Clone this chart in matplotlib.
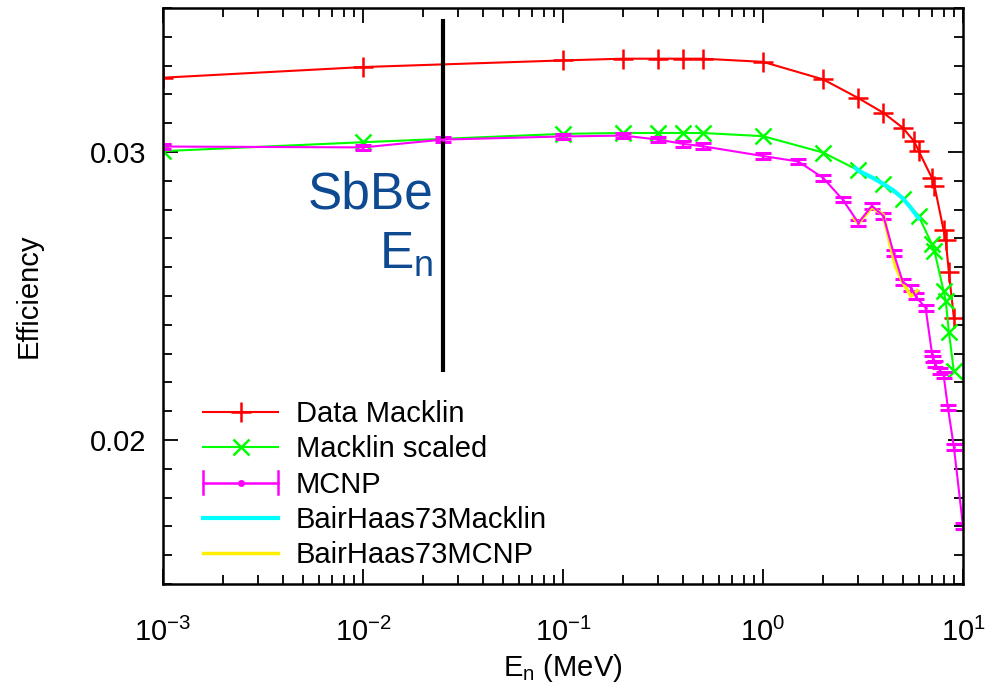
import numpy as np
import matplotlib
matplotlib.use("Agg")
import matplotlib.pyplot as plt
from matplotlib.lines import Line2D
from matplotlib.legend_handler import HandlerBase
from matplotlib.ticker import MultipleLocator, LogLocator

plt.rcParams['font.family'] = ['Liberation Sans', 'DejaVu Sans']
plt.rcParams['mathtext.default'] = 'regular'

# Data Macklin
e_data = [0.001, 0.01, 0.1, 0.2, 0.3, 0.4, 0.5, 1, 2, 3, 4, 5, 5.7, 6,
          7, 7.2, 8, 8.2, 8.5, 9]
eff_data = [0.03258, 0.03295, 0.03318, 0.03324, 0.03324, 0.03324, 0.03324,
            0.03313, 0.03252, 0.03187, 0.03136, 0.03084, 0.03037, 0.03004,
            0.02909, 0.02883, 0.02728, 0.02693, 0.02582, 0.02425]

# Macklin scaled
e_scaled = [0.001, 0.01, 0.1, 0.2, 0.3, 0.4, 0.5, 1, 2, 3, 4, 5, 6,
            7, 7.2, 8, 8.2, 8.5, 9]
eff_scaled = [0.03003, 0.03034, 0.03063, 0.03066, 0.03066, 0.03066, 0.03066,
              0.03055, 0.02998, 0.02936, 0.02889, 0.02838, 0.02778,
              0.02679, 0.02656, 0.02517, 0.02482, 0.02376, 0.02238]

# MCNP
e_mcnp = [0.001, 0.01, 0.025, 0.1, 0.2, 0.3, 0.4, 0.5, 1, 1.5, 2, 2.5, 3,
          3.5, 4, 4.5, 5, 5.5, 5.8, 6.5, 7, 7.1, 7.25, 7.7, 8, 8.4, 9, 10]
eff_mcnp = [0.03019, 0.03016, 0.03043, 0.03054, 0.03057, 0.03043, 0.03028,
            0.03020, 0.02986, 0.02967, 0.02910, 0.02835, 0.02754, 0.02813,
            0.02778, 0.02649, 0.02549, 0.02529, 0.02499, 0.02459, 0.02300,
            0.02282, 0.02263, 0.02239, 0.02226, 0.02113, 0.01977, 0.01701]
err_mcnp = [0.0001] * len(e_mcnp)

# BairHaas73Macklin
e_bh_mack = [2.9, 3, 3.5, 4, 4.5, 5, 5.5, 6]
eff_bh_mack = [0.02945, 0.02935, 0.02912, 0.02889, 0.02866, 0.02839,
               0.02805, 0.02770]

# BairHaas73MCNP
e_bh_mcnp = [2.85, 3, 3.5, 4, 4.3, 4.6, 5, 5.5, 5.9]
eff_bh_mcnp = [0.02770, 0.02752, 0.02808, 0.02782, 0.02685, 0.02602,
               0.02547, 0.02499, 0.02519]

# SbBe energy marker
e_sbbe = 0.025


class ErrHandler(HandlerBase):
    # gnuplot style errorbar key: line with caps at both ends
    def create_artists(self, legend, orig_handle, xdescent, ydescent,
                       width, height, fontsize, trans):
        x0, x1 = -xdescent, -xdescent + width
        yc = height / 2 - ydescent
        d = height * 0.55
        arts = [Line2D([x0, x1], [yc, yc]),
                Line2D([x0, x0], [yc - d, yc + d]),
                Line2D([x1, x1], [yc - d, yc + d])]
        for a in arts:
            a.set_color('#ff00ff')
            a.set_linewidth(1.8)
        dot = Line2D([(x0 + x1) / 2], [yc], marker='o', markersize=4,
                     color='#ff00ff', linestyle='none')
        arts.append(dot)
        for a in arts:
            a.set_transform(trans)
        return arts


fig = plt.figure(figsize=(9.96, 6.9), dpi=100)
ax = fig.add_axes([163 / 996, 106 / 690, 800 / 996, 576 / 690])

l1, = ax.plot(e_data, eff_data, color='#ff0000', lw=1.5, marker='+',
              ms=14, mew=1.8)
l2, = ax.plot(e_scaled, eff_scaled, color='#00ff00', lw=1.5, marker='x',
              ms=12, mew=1.8)
eb = ax.errorbar(e_mcnp, eff_mcnp, yerr=err_mcnp, color='#ff00ff', lw=1.5,
                 marker='.', ms=2, capsize=6, capthick=2.2, elinewidth=1.5)
l4, = ax.plot(e_bh_mack, eff_bh_mack, color='#00ffff', lw=3)
l5, = ax.plot(e_bh_mcnp, eff_bh_mcnp, color='#ffee00', lw=2.5)

ax.vlines(e_sbbe, 0.02237, 0.03463, color='black', lw=3)
fig.text(433 / 996, 1 - 195 / 690, 'SbBe', fontsize=37, color='#0d4a92',
         ha='right', va='center')
fig.text(433 / 996, 1 - 255 / 690, 'E$_n$', fontsize=37, color='#0d4a92',
         ha='right', va='center')

ax.set_xscale('log')
ax.set_xlim(1e-3, 10)
ax.set_ylim(0.015, 0.035)
ax.yaxis.set_minor_locator(MultipleLocator(0.001))
ax.xaxis.set_minor_locator(LogLocator(base=10, subs=np.arange(2, 10)))
ax.set_yticks([0.02, 0.03])
ax.set_yticklabels(['0.02', '0.03'])

ax.tick_params(which='both', direction='in', top=True, right=True,
               labelsize=21, width=1.3)
ax.tick_params(which='major', length=11, pad=12)
ax.tick_params(which='minor', length=6.5)
ax.tick_params(axis='x', which='major', pad=24)
for s in ax.spines.values():
    s.set_linewidth(1.8)

ax.set_xlabel('E$_n$ (MeV)', fontsize=21, labelpad=4)
ax.set_ylabel('Efficiency', fontsize=21)
ax.yaxis.set_label_coords(-0.151, 0.5)

ax.legend([l1, l2, eb, l4, l5],
          ['Data Macklin', 'Macklin scaled', 'MCNP', 'BairHaas73Macklin',
           'BairHaas73MCNP'],
          handler_map={eb: ErrHandler()},
          loc='lower left', bbox_to_anchor=(0.024, -0.01), frameon=False,
          fontsize=21, handlelength=2.6, handletextpad=0.6,
          labelspacing=0.25, borderaxespad=0.3)

fig.savefig('out.png', dpi=100)
